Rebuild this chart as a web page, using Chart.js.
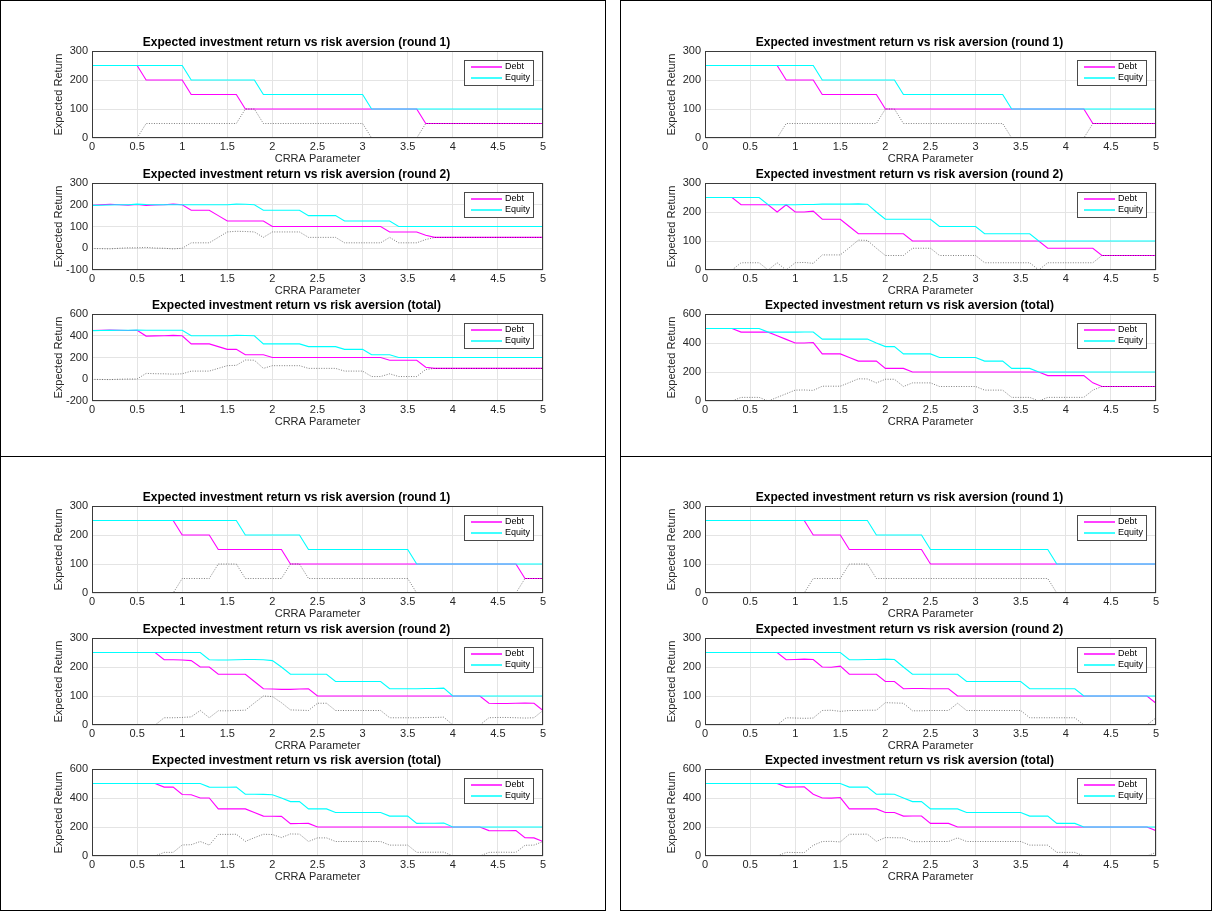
<!DOCTYPE html>
<html>
<head>
<meta charset="utf-8">
<script src="https://cdn.jsdelivr.net/npm/chart.js@4.4.1/dist/chart.umd.min.js"></script>
<style>
  body { margin: 0; background: #fff; width: 1212px; height: 911px; overflow: hidden; position: relative; }
  .panel { position: absolute; border: 1px solid #000; box-sizing: border-box; }
  canvas { position: absolute; }
</style>
</head>
<body>
<div class="panel" style="left:0;top:0;width:606px;height:457px"></div>
<div class="panel" style="left:620px;top:0;width:592px;height:457px"></div>
<div class="panel" style="left:0;top:456px;width:606px;height:455px"></div>
<div class="panel" style="left:620px;top:456px;width:592px;height:455px"></div>
<script>
// CRRA parameter grid (x axis)
const crra = [0,0.1,0.2,0.3,0.4,0.5,0.6,0.7,0.8,0.9,1,1.1,1.2,1.3,1.4,1.5,1.6,1.7,1.8,1.9,2,2.1,2.2,2.3,2.4,2.5,2.6,2.7,2.8,2.9,3,3.1,3.2,3.3,3.4,3.5,3.6,3.7,3.8,3.9,4,4.1,4.2,4.3,4.4,4.5,4.6,4.7,4.8,4.9,5];

const titles = [
  'Expected investment return vs risk aversion (round 1)',
  'Expected investment return vs risk aversion (round 2)',
  'Expected investment return vs risk aversion (total)'
];

// top-left figure
const a1Debt = [250,250,250,250,250,250, 200,200,200,200,200, 150,150,150,150,150,150,
  100,100,100,100,100,100,100,100,100,100,100,100,100,100,100,100,100,100,100,100,
  50,50,50,50,50,50,50,50,50,50,50,50,50,50];
const a1Equity = [250,250,250,250,250,250,250,250,250,250,250, 200,200,200,200,200,200,200,200,
  150,150,150,150,150,150,150,150,150,150,150,150,
  100,100,100,100,100,100,100,100,100,100,100,100,100,100,100,100,100,100,100,100];
const a2Debt = [198,200,202,200,198,201,197,199,200,203,200, 175,175,175,150, 125,125,125,125,125,
  100,100,100,100,100,100,100,100,100,100,100,100,100, 75,75,75,75,60,
  50,50,50,50,50,50,50,50,50,50,50,50,50];
const a2Equity = [197,198,199,200,200,203,201,200,200,200,200, 200,200,200,200,200,203,202,200,
  175,175,175,175,175, 150,150,150,150, 125,125,125,125,125,125,
  100,100,100,100,100,100,100,100,100,100,100,100,100,100,100,100,100];
const aTotDebt = [448,450,452,450,448,451, 397,399,400,403,400, 325,325,325,300,275,275, 225,225,225,
  200,200,200,200,200,200,200,200,200,200,200,200,200, 175,175,175,175,110,
  100,100,100,100,100,100,100,100,100,100,100,100,100];
const aTotEquity = [447,448,449,450,450,453,451,450,450,450,450, 400,400,400,400,400,403,402,400,
  325,325,325,325,325, 300,300,300,300, 275,275,275, 225,225,225,
  200,200,200,200,200,200,200,200,200,200,200,200,200,200,200,200,200];

// top-right figure
const b1Debt = [250,250,250,250,250,250,250,250,250, 200,200,200,200, 150,150,150,150,150,150,150,
  100,100,100,100,100,100,100,100,100,100,100,100,100,100,100,100,100,100,100,100,100,100,100,
  50,50,50,50,50,50,50,50];
const b1Equity = [250,250,250,250,250,250,250,250,250,250,250,250,250, 200,200,200,200,200,200,200,200,200,
  150,150,150,150,150,150,150,150,150,150,150,150,
  100,100,100,100,100,100,100,100,100,100,100,100,100,100,100,100,100];
const b2Debt = [250,250,250,250, 225,225,225,225, 200,225,200,200,203, 175,175,175,150,
  125,125,125,125,125,125, 100,100,100,100,100,100,100,100,100,100,100,100,100,100,100,
  75,75,75,75,75,75, 50,50,50,50,50,50,50];
const b2Equity = [250,250,250,250,250,250,250, 225,225,225,225,226,226,227,227,227,227,228,227, 200,
  175,175,175,175,175,175, 150,150,150,150,150, 125,125,125,125,125,125,
  100,100,100,100,100,100,100,100,100,100,100,100,100,100];
const bTotDebt = [500,500,500,500, 475,475,475,475, 450,425,400,400,403, 325,325,325,300, 275,275,275, 225,225,225,
  200,200,200,200,200,200,200,200,200,200,200,200,200,200,200,
  175,175,175,175,175, 125, 100,100,100,100,100,100,100];
const bTotEquity = [500,500,500,500,500,500,500, 475,475,475,475,476,476, 427,427,427,427,428,427, 400,375,375,
  325,325,325,325, 300,300,300,300,300, 275,275,275, 225,225,225,
  200,200,200,200,200,200,200,200,200,200,200,200,200,200];

// bottom-left figure
const c1Debt = [250,250,250,250,250,250,250,250,250,250, 200,200,200,200, 150,150,150,150,150,150,150,150,
  100,100,100,100,100,100,100,100,100,100,100,100,100,100,100,100,100,100,100,100,100,100,100,100,100,100,
  50,50,50];
const c1Equity = [250,250,250,250,250,250,250,250,250,250,250,250,250,250,250,250,250, 200,200,200,200,200,200,200,
  150,150,150,150,150,150,150,150,150,150,150,150,
  100,100,100,100,100,100,100,100,100,100,100,100,100,100,100];
const c2Debt = [250,250,250,250,250,250,250,250, 225,225,224,222, 200,200, 175,175,175,175, 150,
  125,124,123,123,124,125, 100,100,100,100,100,100,100,100,100,100,100,100,100,100,100,100,100,100,100,
  75,74,74,75,76,75, 50];
const c2Equity = [250,250,250,250,250,250,250,250,250,250,250,250,250, 225,224,224,225,226,226,225,222, 200,
  175,175,175,175,175, 150,150,150,150,150,150, 125,125,125,125,126,126,127,
  100,100,100,100,100,100,100,100,100,100,100];
const cTotDebt = [500,500,500,500,500,500,500,500, 475,475,424,422,400,400, 325,325,325,325, 300, 275,274,273, 223,224,225,
  200,200,200,200,200,200,200,200,200,200,200,200,200,200,200,200,200,200,200,
  175,174,174,175, 126,125, 100];
const cTotEquity = [500,500,500,500,500,500,500,500,500,500,500,500,500, 475,474,474,475, 426,426,425,422, 400, 375,375,
  325,325,325, 300,300,300,300,300,300, 275,275,275, 225,226,226,227,
  200,200,200,200,200,200,200,200,200,200,200];

// bottom-right figure
const d1Debt = [250,250,250,250,250,250,250,250,250,250,250,250, 200,200,200,200, 150,150,150,150,150,150,150,150,150,
  100,100,100,100,100,100,100,100,100,100,100,100,100,100,100,100,100,100,100,100,100,100,100,100,100,100];
const d1Equity = [250,250,250,250,250,250,250,250,250,250,250,250,250,250,250,250,250,250,250, 200,200,200,200,200,200,
  150,150,150,150,150,150,150,150,150,150,150,150,150,150,
  100,100,100,100,100,100,100,100,100,100,100,100];
const d2Debt = [250,250,250,250,250,250,250,250,250, 225,226,227,226, 200,199,203, 175,175,175,175, 150,150,
  125,126,126,125,125,125, 100,100,100,100,100,100,100,100,100,100,100,100,100,100,100,100,100,100,100,100,100,100, 75];
const d2Equity = [250,250,250,250,250,250,250,250,250,250,250,250,250,250,250,250, 225,225,226,226,227,226, 200,
  175,175,175,175,175,175, 150,150,150,150,150,150,150, 125,125,125,125,125,125,
  100,100,100,100,100,100,100,100,100];
const dTotDebt = [500,500,500,500,500,500,500,500,500, 475,476,477,426, 400,399,403, 325,325,325,325, 300,300,
  275,276,276, 225,225,225, 200,200,200,200,200,200,200,200,200,200,200,200,200,200,200,200,200,200,200,200,200,200, 175];
const dTotEquity = [500,500,500,500,500,500,500,500,500,500,500,500,500,500,500,500, 475,475,476,426,427,426, 400,375,375,
  325,325,325,325, 300,300,300,300,300,300,300, 275,275,275, 225,225,225,
  200,200,200,200,200,200,200,200,200];

const yRound = [0, 300, 100];
const figures = [
  { left: 50, top: 31, plots: [[a1Debt, a1Equity, yRound], [a2Debt, a2Equity, [-100, 300, 100]], [aTotDebt, aTotEquity, [-200, 600, 200]]] },
  { left: 663, top: 31, plots: [[b1Debt, b1Equity, yRound], [b2Debt, b2Equity, yRound], [bTotDebt, bTotEquity, [0, 600, 200]]] },
  { left: 50, top: 486, plots: [[c1Debt, c1Equity, yRound], [c2Debt, c2Equity, yRound], [cTotDebt, cTotEquity, [0, 600, 200]]] },
  { left: 663, top: 486, plots: [[d1Debt, d1Equity, yRound], [d2Debt, d2Equity, yRound], [dTotDebt, dTotEquity, [0, 600, 200]]] }
];

const FONT = '"Liberation Sans", Arial, Helvetica, sans-serif';
const DEBT_COLOR = '#ff00ff';
const EQUITY_COLOR = '#00ffff';
Chart.defaults.font.family = FONT;

// axes box + legend drawn inside the plot, MATLAB style
const boxLegend = {
  id: 'boxLegend',
  afterDraw(chart) {
    const { ctx, chartArea: a } = chart;
    ctx.save();
    ctx.setLineDash([]);
    ctx.strokeStyle = '#3a3a3a';
    ctx.lineWidth = 1;
    ctx.strokeRect(Math.round(a.left) + 0.5, Math.round(a.top) + 0.5,
      Math.round(a.right - a.left) - 1, Math.round(a.bottom - a.top) - 1);

    const w = 69, h = 25;
    const x = Math.round(a.right - 10 - w), y = Math.round(a.top + 9);
    ctx.fillStyle = '#fff';
    ctx.fillRect(x, y, w, h);
    ctx.strokeStyle = '#4a4a4a';
    ctx.strokeRect(x + 0.5, y + 0.5, w, h);
    ctx.font = '9px ' + FONT;
    ctx.textBaseline = 'middle';
    ctx.textAlign = 'left';
    [['Debt', DEBT_COLOR], ['Equity', EQUITY_COLOR]].forEach(([name, color], i) => {
      const ly = y + 7 + i * 11;
      ctx.beginPath();
      ctx.strokeStyle = color;
      ctx.lineWidth = 1.5;
      ctx.moveTo(x + 7, ly);
      ctx.lineTo(x + 38, ly);
      ctx.stroke();
      ctx.fillStyle = '#000';
      ctx.fillText(name, x + 41, ly);
    });
    ctx.restore();
  }
};

const toPoints = vals => crra.map((x, i) => ({ x: x, y: vals[i] }));

figures.forEach(fig => {
  fig.plots.forEach(([debt, equity, yr], k) => {
    const canvas = document.createElement('canvas');
    canvas.width = 506;
    canvas.height = 133;
    canvas.style.left = fig.left + 'px';
    canvas.style.top = (fig.top + k * 131.5) + 'px';
    document.body.appendChild(canvas);

    new Chart(canvas, {
      type: 'line',
      data: {
        datasets: [
          { label: 'Debt', data: toPoints(debt), borderColor: DEBT_COLOR, borderWidth: 1.1, order: 2 },
          { label: 'Equity', data: toPoints(equity), borderColor: EQUITY_COLOR, borderWidth: 1.1, order: 1 },
          { label: 'Gap', data: crra.map((x, i) => ({ x: x, y: equity[i] - debt[i] })),
            borderColor: 'rgba(0,0,0,0.5)', borderWidth: 1, borderDash: [1, 1.5], order: 0 }
        ]
      },
      options: {
        responsive: false,
        animation: false,
        devicePixelRatio: 1,
        layout: { padding: { left: 0, right: 13, top: 0, bottom: 0 } },
        elements: { point: { radius: 0 }, line: { tension: 0 } },
        plugins: {
          legend: { display: false },
          tooltip: { enabled: false },
          title: {
            display: true, text: titles[k], color: '#000',
            font: { size: 12, weight: 'bold', lineHeight: 1.2 },
            padding: { top: 4, bottom: 1.6 }
          }
        },
        scales: {
          x: {
            type: 'linear', min: 0, max: 5,
            ticks: { stepSize: 0.5, color: '#262626', font: { size: 11, lineHeight: 1 }, padding: 3,
              maxRotation: 0, autoSkip: false, callback: v => String(Math.round(v * 10) / 10) },
            grid: { color: '#e4e4e4', drawTicks: false },
            border: { display: false },
            title: { display: true, text: 'CRRA Parameter', color: '#262626', font: { size: 11, lineHeight: 1 }, padding: { top: -2, bottom: 0 } }
          },
          y: {
            min: yr[0], max: yr[1],
            ticks: { stepSize: yr[2], color: '#262626', font: { size: 11, lineHeight: 1 }, padding: 4 },
            grid: { color: '#e4e4e4', drawTicks: false },
            border: { display: false },
            title: { display: true, text: 'Expected Return', color: '#262626', font: { size: 11, lineHeight: 1 }, padding: { top: 3.5, bottom: 0 } },
            afterFit(scale) { scale.width = 42; }
          }
        }
      },
      plugins: [boxLegend]
    });
  });
});
</script>
</body>
</html>
